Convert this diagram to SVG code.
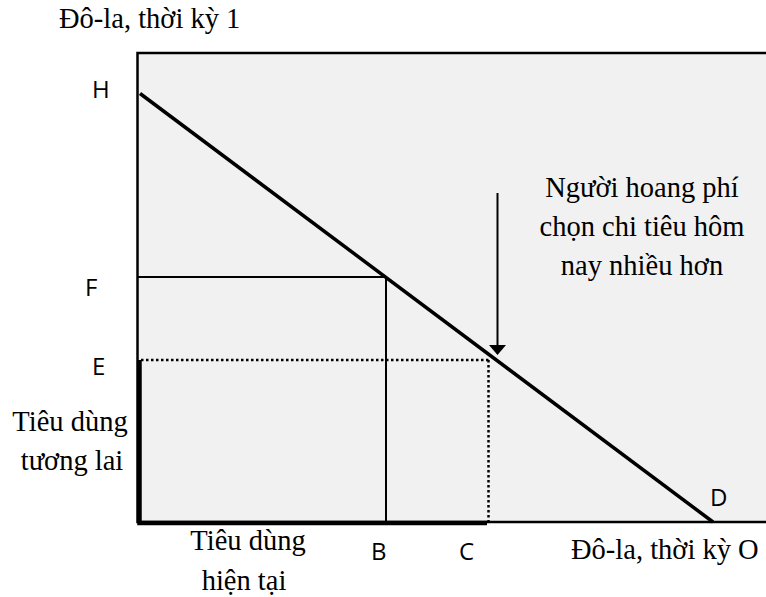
<svg xmlns="http://www.w3.org/2000/svg" width="766" height="597" viewBox="0 0 766 597">
<style>
.serif{font-family:"Liberation Serif","Times New Roman",serif;font-size:28.5px;fill:#000}
.sans{font-family:"Open Sans","Liberation Sans",sans-serif;font-size:24px;fill:#000}
.thin{stroke:#000;stroke-width:2;fill:none}
.dot{stroke:#000;stroke-width:2.5;stroke-dasharray:2.5 2.5;fill:none}
</style>
<rect width="766" height="597" fill="#fff"/>
<g id="plot">
<rect x="137.5" y="53" width="640" height="469" fill="#f1f1f1" stroke="#000" stroke-width="2.5"/>
</g>
<g id="connectors">
<line class="thin" x1="137" y1="277" x2="386" y2="277"/>
<line class="thin" x1="386" y1="277" x2="386" y2="522"/>
<line class="dot" x1="141" y1="360" x2="490" y2="360"/>
<line class="dot" x1="488.5" y1="360" x2="488.5" y2="521"/>
<path d="M139.5,360 V523 H487" fill="none" stroke="#000" stroke-width="4.5"/>
<line x1="140" y1="93.5" x2="713" y2="522" stroke="#000" stroke-width="3.5"/>
<line x1="497.5" y1="193" x2="497.5" y2="346" stroke="#000" stroke-width="2"/>
<polygon points="489,345 506,345 497.5,355" fill="#000"/>
</g>
<g id="labels">
<text class="serif" x="59" y="28">Đô-la, thời kỳ 1</text>
<text class="serif" x="571" y="559">Đô-la, thời kỳ O</text>
<text class="serif" x="70" y="431" text-anchor="middle">Tiêu dùng</text>
<text class="serif" x="72" y="470" text-anchor="middle">tương lai</text>
<text class="serif" x="248" y="550" text-anchor="middle">Tiêu dùng</text>
<text class="serif" x="244" y="590" text-anchor="middle">hiện tại</text>
<text class="serif" x="642" y="197" text-anchor="middle">Người hoang phí</text>
<text class="serif" x="642" y="236" text-anchor="middle">chọn chi tiêu hôm</text>
<text class="serif" x="642" y="275" text-anchor="middle">nay nhiều hơn</text>
<text class="sans" x="92" y="98">H</text>
<text class="sans" x="85" y="296">F</text>
<text class="sans" x="92" y="375">E</text>
<text class="sans" x="710" y="506">D</text>
<text class="sans" x="371" y="560">B</text>
<text class="sans" x="459" y="560">C</text>
</g>
</svg>
